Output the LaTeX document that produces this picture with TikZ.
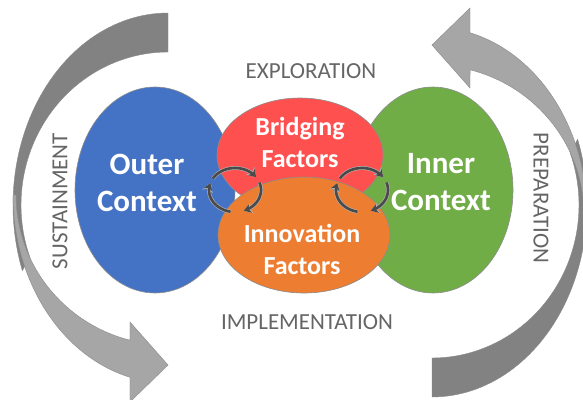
\documentclass[tikz,border=0pt]{standalone}
\usepackage{fontspec}
\setmainfont{Carlito}
\usetikzlibrary{arrows.meta,shapes.geometric}
\definecolor{cblue}{HTML}{4472C4}
\definecolor{cred}{HTML}{FF5050}
\definecolor{corange}{HTML}{ED7D31}
\definecolor{cgreen}{HTML}{70AD47}
\definecolor{adark}{HTML}{828282}
\definecolor{alight}{HTML}{A6A6A6}
\definecolor{aedge}{HTML}{8A8A8A}
\definecolor{labelgray}{HTML}{656565}
\definecolor{cycgray}{HTML}{4A4A4A}
\definecolor{cycedge}{HTML}{B4B4B4}
\definecolor{blobedge}{HTML}{8C8C8C}
\tikzset{
  blob/.style={ellipse, draw=blobedge, line width=0.6pt, inner sep=0pt},
  lbl/.style={font=\fontsize{23}{27}\selectfont, text=labelgray, inner sep=0pt},
  bigtxt/.style={font=\bfseries\fontsize{31}{37}\selectfont, text=white, align=center, inner sep=0pt},
  midtxt/.style={font=\bfseries\fontsize{26}{32}\selectfont, text=white, align=center, inner sep=0pt},
  cycarrow/.style={draw=cycgray, line width=2.6pt, -{Stealth[length=7pt,width=9pt]},
     preaction={draw=cycedge, line width=3.8pt, -{Stealth[length=8.5pt,width=11pt]}}},
  darkband/.style={fill=adark, draw=aedge, line width=0.4pt},
  lightband/.style={fill=alight, draw=aedge, line width=0.4pt}
}
\begin{document}
\begin{tikzpicture}[x=1pt,y=-1pt]
\useasboundingbox (0,0) rectangle (583,399);
\clip (0,0) rectangle (583,399);
% left big arrow (Sustainment)
\begin{scope}
  \path[darkband] plot[domain=90:200,samples=60] ({168+155*cos(\x)},{205-192*sin(\x)})
     -- plot[domain=200:90,samples=60] ({168+147*cos(\x)},{205-153*sin(\x)}) -- cycle;
  \path[lightband] plot[domain=180:255.8,samples=60] ({168+155*cos(\x)},{195-188*sin(\x)})
     -- (130,402) -- (168,365) -- (130,322)
     -- plot[domain=255.5:180,samples=60] ({168+152*cos(\x)},{195-150*sin(\x)}) -- cycle;
\end{scope}
% right big arrow (Preparation), point reflection of the left one
\begin{scope}[shift={(600,410)}, rotate=180]
  \path[darkband] plot[domain=90:200,samples=60] ({168+155*cos(\x)},{205-192*sin(\x)})
     -- plot[domain=200:90,samples=60] ({168+147*cos(\x)},{205-153*sin(\x)}) -- cycle;
  \path[lightband] plot[domain=180:255.8,samples=60] ({168+155*cos(\x)},{195-188*sin(\x)})
     -- (130,402) -- (168,365) -- (130,322)
     -- plot[domain=255.5:180,samples=60] ({168+152*cos(\x)},{195-150*sin(\x)}) -- cycle;
\end{scope}
% ellipses
\node[blob, fill=cblue, minimum width=160pt, minimum height=206pt] (outer) at (155,190) {};
\node[blob, fill=cgreen, minimum width=160pt, minimum height=206pt] (inner) at (433,190) {};
\node[blob, fill=cred, minimum width=166pt, minimum height=114pt] (bridging) at (300,155) {};
\node[blob, fill=corange, minimum width=172pt, minimum height=116pt] (innovation) at (304,235) {};
% texts
\node[bigtxt] (outertxt) at (147,183) {Outer\\Context};
\node[bigtxt] (innertxt) at (441,182) {Inner\\Context};
\node[midtxt] (bridtxt) at (300,142) {Bridging\\Factors};
\node[midtxt] (innotxt) at (302,249) {Innovation\\Factors};
% phase labels
\node[lbl] (explo) at (311,71) {EXPLORATION};
\node[lbl] (impl) at (307,322) {IMPLEMENTATION};
\node[lbl, rotate=90] (sust) at (60,201) {SUSTAINMENT};
\node[lbl, rotate=-90] (prep) at (541,198) {PREPARATION};
% small cycle arrows
\foreach \cx in {235,362}{
  \draw[cycarrow] plot[domain=212:324,samples=25] ({\cx+26*cos(\x)},{190+22*sin(\x)});
  \draw[cycarrow] plot[domain=340:430,samples=25] ({\cx+26*cos(\x)},{190+22*sin(\x)});
  \draw[cycarrow] plot[domain=100:198,samples=25] ({\cx+26*cos(\x)},{190+22*sin(\x)});
}
\end{tikzpicture}
\end{document}
